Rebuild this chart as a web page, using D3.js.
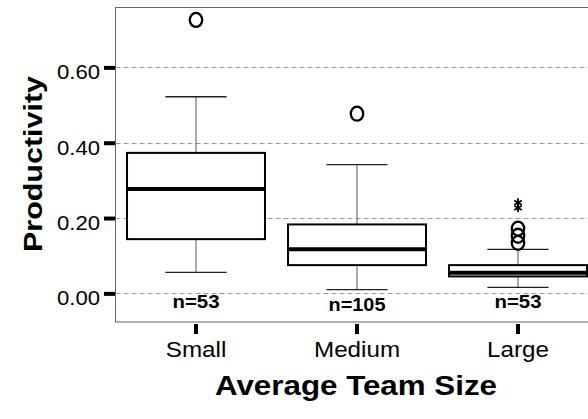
<!DOCTYPE html>
<html><head><meta charset="utf-8">
<script src="https://cdn.jsdelivr.net/npm/d3@7"></script>
<style>body{margin:0;background:#fff}svg{display:block}text{font-family:"Liberation Sans",Arial,sans-serif}</style>
</head><body><div id="chart"></div>
<script>
const categories = ["Small", "Medium", "Large"];
const counts = ["n=53", "n=105", "n=53"];
const whiskerLow = [0.056, 0.010, 0.016];
const q1 = [0.144, 0.075, 0.045];
const medians = [0.277, 0.117, 0.055];
const q3 = [0.373, 0.183, 0.075];
const whiskerHigh = [0.522, 0.342, 0.117];
const outliersCircle = [[0.726], [0.477], [0.172, 0.153, 0.134]];
const outliersStar = [[], [], [0.241, 0.227]];
const yTicks = [0, 0.2, 0.4, 0.6];
const yTickLabels = ["0.00", "0.20", "0.40", "0.60"];
const xTitle = "Average Team Size";
const yTitle = "Productivity";

const W = 588, H = 419;
const svg = d3.select("#chart").append("svg").attr("width", W).attr("height", H);

function stretch(sel, f) {
  sel.each(function () {
    const len = this.getComputedTextLength();
    d3.select(this).attr("textLength", len * f).attr("lengthAdjust", "spacingAndGlyphs");
  });
}

const x = d3.scaleBand().domain(categories).range([115.5, 598.5]).padding(0);
const y = d3.scaleLinear().domain([-0.076, 0.759]).range([322, 7.5]);
const bw = x.bandwidth() * 0.857;
const cw = x.bandwidth() * 0.38;

// grid
svg.append("g").selectAll("line").data(yTicks).join("line")
  .attr("x1", 115.5).attr("x2", W).attr("y1", d => Math.round(y(d)) + 0.5).attr("y2", d => Math.round(y(d)) + 0.5)
  .attr("stroke", "#9a9a9a").attr("stroke-width", 1).attr("stroke-dasharray", "5,3");

// frame
svg.append("rect").attr("x", 115.5).attr("y", 7.5).attr("width", 600).attr("height", 314.5)
  .attr("fill", "none").attr("stroke", "#666").attr("stroke-width", 1);

// y axis
const yAxis = d3.axisLeft(y).tickValues(yTicks).tickSize(11).tickFormat((d, i) => yTickLabels[i]);
const ga = svg.append("g").attr("transform", "translate(115,0)").call(yAxis);
ga.select(".domain").remove();
ga.selectAll(".tick line").attr("stroke", "#000").attr("stroke-width", 4);
ga.selectAll(".tick text").attr("x", -15).attr("dy", "0.32em").attr("transform", "translate(0,5)")
  .attr("font-size", 20).attr("fill", "#000").attr("font-family", "Liberation Sans, Arial, sans-serif")
  .attr("textLength", 43).attr("lengthAdjust", "spacingAndGlyphs");

// x axis
const xAxis = d3.axisBottom(x).tickSize(10).tickSizeOuter(0);
const gx = svg.append("g").attr("transform", "translate(0,322)").call(xAxis);
gx.select(".domain").remove();
gx.selectAll(".tick line").attr("stroke", "#000").attr("stroke-width", 4).attr("y1", 2).attr("y2", 12);
gx.selectAll(".tick text").attr("y", 35).attr("dy", 0).attr("font-size", 22).attr("fill", "#000")
  .attr("font-family", "Liberation Sans, Arial, sans-serif");
stretch(gx.selectAll(".tick text"), 1.1);

// boxes
const g = svg.append("g");
categories.forEach((c, i) => {
  const cx = x(c) + x.bandwidth() / 2;
  g.append("line").attr("x1", cx).attr("x2", cx).attr("y1", y(whiskerHigh[i])).attr("y2", y(q3[i]))
    .attr("stroke", "#555").attr("stroke-width", 1);
  g.append("line").attr("x1", cx).attr("x2", cx).attr("y1", y(q1[i])).attr("y2", y(whiskerLow[i]))
    .attr("stroke", "#555").attr("stroke-width", 1);
  [whiskerHigh[i], whiskerLow[i]].forEach(v => {
    g.append("line").attr("x1", cx - cw / 2).attr("x2", cx + cw / 2).attr("y1", y(v)).attr("y2", y(v))
      .attr("stroke", "#222").attr("stroke-width", 1.3);
  });
  g.append("rect").attr("x", cx - bw / 2).attr("y", y(q3[i])).attr("width", bw).attr("height", y(q1[i]) - y(q3[i]))
    .attr("fill", "#fff").attr("stroke", "#000").attr("stroke-width", 2);
  g.append("line").attr("x1", cx - bw / 2).attr("x2", cx + bw / 2).attr("y1", y(medians[i])).attr("y2", y(medians[i]))
    .attr("stroke", "#000").attr("stroke-width", 4);
  outliersCircle[i].forEach(v => {
    g.append("ellipse").attr("cx", cx).attr("cy", y(v)).attr("rx", 6.2).attr("ry", 7)
      .attr("fill", "none").attr("stroke", "#000").attr("stroke-width", 2.3);
  });
  outliersStar[i].forEach(v => {
    const cy = y(v), r = 4.3;
    const p = d3.path();
    [90, 30, 150].forEach(a => {
      const rad = a * Math.PI / 180;
      p.moveTo(cx - r * Math.cos(rad), cy - r * Math.sin(rad));
      p.lineTo(cx + r * Math.cos(rad), cy + r * Math.sin(rad));
    });
    g.append("path").attr("d", p.toString()).attr("stroke", "#000").attr("stroke-width", 1.8).attr("fill", "none");
  });
  g.append("text").attr("x", cx).attr("y", i === 1 ? 311 : 308).attr("text-anchor", "middle")
    .attr("font-size", 18).attr("font-weight", "bold").attr("fill", "#000")
    .attr("textLength", i === 1 ? 57 : 47).attr("lengthAdjust", "spacingAndGlyphs").text(counts[i]);
});

// titles
svg.append("text").attr("x", 356).attr("y", 395).attr("text-anchor", "middle")
  .attr("font-size", 27).attr("font-weight", "bold").attr("fill", "#000")
  .attr("textLength", 282).attr("lengthAdjust", "spacingAndGlyphs").text(xTitle);
svg.append("text").attr("transform", "translate(42,164) rotate(-90)").attr("text-anchor", "middle")
  .attr("font-size", 26).attr("font-weight", "bold").attr("fill", "#000")
  .attr("textLength", 176).attr("lengthAdjust", "spacingAndGlyphs").text(yTitle);
</script></body></html>
